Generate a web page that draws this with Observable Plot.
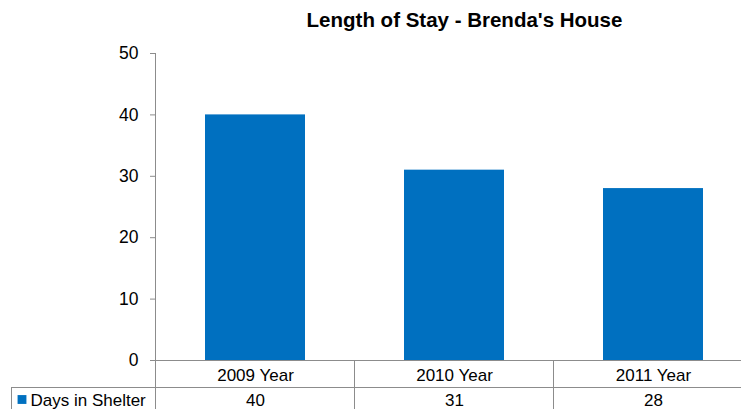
<!DOCTYPE html>
<html>
<head>
<meta charset="utf-8">
<script src="https://cdn.jsdelivr.net/npm/d3@7"></script>
<script src="https://cdn.jsdelivr.net/npm/@observablehq/plot@0.6"></script>
<style>
  html, body { margin: 0; padding: 0; background: #fff; overflow: hidden; }
  #chart svg { display: block; }
</style>
</head>
<body>
<div id="chart"></div>
<script>
const title = "Length of Stay - Brenda's House";
const seriesName = "Days in Shelter";
const categories = ["2009 Year", "2010 Year", "2011 Year"];
const values = [40, 31, 28];
const yTicks = [0, 10, 20, 30, 40, 50];

const data = categories.map((c, i) => ({cat: c, value: values[i]}));
const blue = "#0070C0";
const gray = "#8c8c8c";
const font = "'Liberation Sans', Arial, sans-serif";

// Data-table grid drawn from the plot's own scales
function tableGrid(index, scales, vals, dims) {
  const x = scales.x, y = scales.y;
  const step = x(categories[1]) - x(categories[0]);
  const y0 = y(0), yTop = y(yTicks[yTicks.length - 1]);
  const rowH = (dims.height - y0) * 0.55;
  const g = d3.create("svg:g").attr("stroke", gray).attr("fill", "none").attr("stroke-width", 1);
  // axis + table left border
  g.append("line").attr("x1", dims.marginLeft + 0.5).attr("x2", dims.marginLeft + 0.5)
    .attr("y1", yTop).attr("y2", dims.height);
  // column separators
  categories.forEach(c => {
    const xe = Math.round(x(c) + step * 0.75) + 0.5;
    g.append("line").attr("x1", xe).attr("x2", xe).attr("y1", y0).attr("y2", dims.height);
  });
  // row separator (extends to legend cell)
  const yr = Math.round(y0 + rowH) + 0.5;
  g.append("line").attr("x1", 11).attr("x2", dims.width).attr("y1", yr).attr("y2", yr);
  g.append("line").attr("x1", 11.5).attr("x2", 11.5).attr("y1", yr).attr("y2", dims.height);
  return g.node();
}

const chart = Plot.plot({
  width: 741,
  height: 409,
  marginTop: 53,
  marginBottom: 49,
  marginLeft: 155,
  marginRight: 0,
  style: {fontFamily: font, fontSize: "17px", color: "black", background: "white", overflow: "hidden"},
  x: {domain: categories, range: [155, 752], paddingInner: 0.5, paddingOuter: 0.25, axis: null},
  y: {domain: [0, 50], axis: null},
  marks: [
    Plot.barY(data, {x: "cat", y: "value", fill: blue}),
    Plot.axisY({ticks: yTicks, tickSize: 5, tickPadding: 12, stroke: gray, fill: "black", fontSize: 17.5, label: null}),
    Plot.ruleY([0], {stroke: gray}),
    tableGrid,
    Plot.text(data, {x: "cat", text: "cat", frameAnchor: "bottom", lineAnchor: "middle", dy: 15, fill: "black", fontSize: 17}),
    Plot.text(data, {x: "cat", text: d => String(d.value), frameAnchor: "bottom", lineAnchor: "middle", dy: 40, fill: "black", fontSize: 17}),
    Plot.dot([seriesName], {frameAnchor: "bottom-left", dx: -133.5, dy: 39, symbol: "square", r: 5, fill: blue, stroke: null}),
    Plot.text([seriesName], {frameAnchor: "bottom-left", lineAnchor: "middle", dx: -125, dy: 40, textAnchor: "start", fill: "black", fontSize: 17}),
    Plot.text([title], {frameAnchor: "top", lineAnchor: "middle", dy: -33, dx: 16, fontWeight: "bold", fontSize: 20.5, fill: "black"})
  ]
});
document.getElementById("chart").appendChild(chart);
</script>
</body>
</html>
